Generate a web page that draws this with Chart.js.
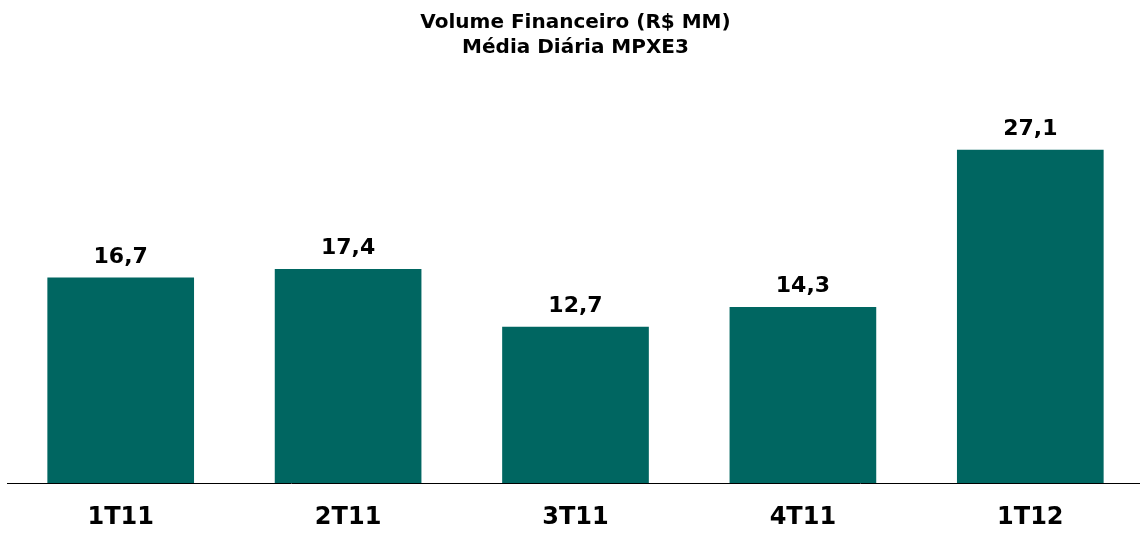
<!DOCTYPE html>
<html>
<head>
<meta charset="utf-8">
<script src="https://cdn.jsdelivr.net/npm/chart.js@4"></script>
<style>
  html, body { margin: 0; padding: 0; background: #ffffff; overflow: hidden; }
  #wrap { width: 1144px; height: 533px; }
</style>
</head>
<body>
<div id="wrap"><canvas id="volumeChart"></canvas></div>
<script>
const quarters = ['1T11', '2T11', '3T11', '4T11', '1T12'];
const volumes = [16.7, 17.4, 12.7, 14.3, 27.1];
const titleLines = ['Volume Financeiro (R$ MM)', 'Média Diária MPXE3'];

const barColor = '#006661';
const fontFamily = '"DejaVu Sans", Verdana, sans-serif';

// rótulos de valor acima das barras
const valueLabels = {
    id: 'valueLabels',
    afterDatasetsDraw(chart) {
        const ctx = chart.ctx;
        const meta = chart.getDatasetMeta(0);
        ctx.save();
        ctx.font = 'bold 22px ' + fontFamily;
        ctx.fillStyle = '#000000';
        ctx.textAlign = 'center';
        ctx.textBaseline = 'alphabetic';
        meta.data.forEach((bar, i) => {
            const txt = volumes[i].toFixed(1).replace('.', ',');
            ctx.fillText(txt, bar.x, bar.y - 15);
        });
        ctx.restore();
    }
};

new Chart(document.getElementById('volumeChart'), {
    type: 'bar',
    data: {
        labels: quarters,
        datasets: [{
            data: volumes,
            backgroundColor: barColor,
            borderWidth: 0,
            categoryPercentage: 0.645,
            barPercentage: 1
        }]
    },
    options: {
        responsive: true,
        maintainAspectRatio: false,
        animation: false,
        layout: { padding: { left: 7, right: 0, top: 0, bottom: 0 } },
        plugins: {
            legend: { display: false },
            tooltip: { enabled: false },
            title: {
                display: true,
                text: titleLines,
                color: '#000000',
                font: { family: fontFamily, size: 20, weight: 'bold', lineHeight: 1.25 },
                padding: { top: 10, bottom: 54 }
            }
        },
        scales: {
            x: {
                grid: { display: false, drawTicks: false },
                border: { display: true, color: '#000000', width: 1 },
                ticks: {
                    color: '#000000',
                    padding: 20,
                    font: { family: fontFamily, size: 24, weight: 'bold' }
                },
                afterFit(scale) {
                    scale.height = 50;
                }
            },
            y: {
                display: false,
                min: 0,
                max: 30
            }
        }
    },
    plugins: [valueLabels]
});
</script>
</body>
</html>
